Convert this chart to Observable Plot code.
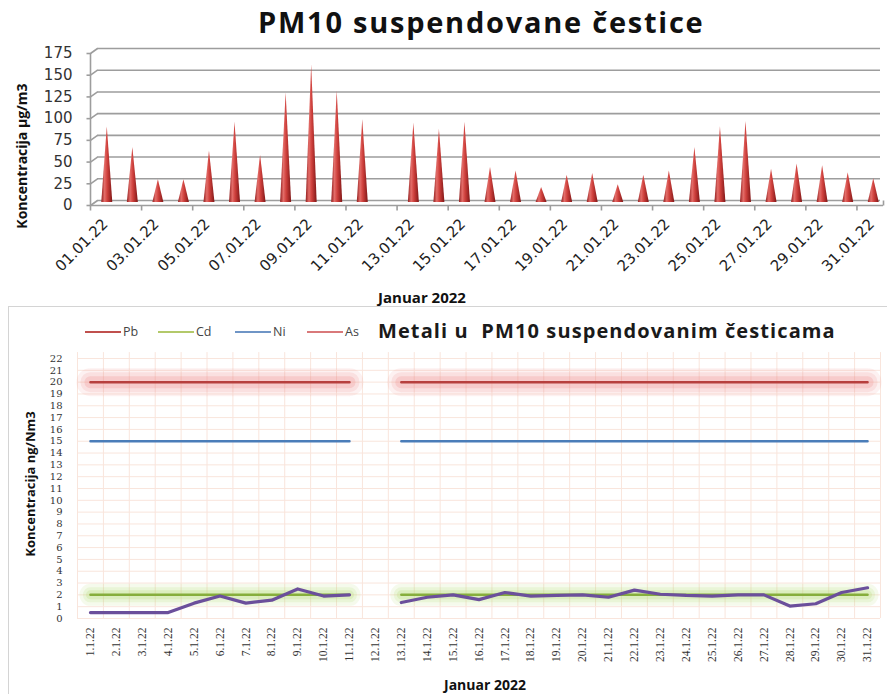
<!DOCTYPE html>
<html><head><meta charset="utf-8">
<script src="https://cdn.jsdelivr.net/npm/d3@7"></script>
<script src="https://cdn.jsdelivr.net/npm/@observablehq/plot@0.6"></script>
<style>
body{margin:0;background:#fff;}
#wrap{position:relative;width:887px;height:694px;overflow:hidden;font-family:"Open Sans",sans-serif;}
.abs{position:absolute;white-space:nowrap;line-height:1;}
.sw{position:absolute;height:2px;}
svg{background:transparent !important;}
</style></head><body><div id="wrap"></div>
<script>
// ---------- data ----------
const days = [1,2,3,4,5,6,7,8,9,10,11,12,13,14,15,16,17,18,19,20,21,22,23,24,25,26,27,28,29,30,31];
const pm10 = [85,61,24,24,57,90,52,124,156,126,93,null,89,82,90,38,34,15,29,31,18,29,34,61,85,91,36,42,40,32,25];
const pm10Ticks = [0,25,50,75,100,125,150,175];
const topLabelDays = [1,3,5,7,9,11,13,15,17,19,21,23,25,27,29,31];
const topLabels = ["01.01.22","03.01.22","05.01.22","07.01.22","09.01.22","11.01.22","13.01.22","15.01.22","17.01.22","19.01.22","21.01.22","23.01.22","25.01.22","27.01.22","29.01.22","31.01.22"];

const pbVals = [20,20,20,20,20,20,20,20,20,20,20,null,20,20,20,20,20,20,20,20,20,20,20,20,20,20,20,20,20,20,20];
const niVals = [15,15,15,15,15,15,15,15,15,15,15,null,15,15,15,15,15,15,15,15,15,15,15,15,15,15,15,15,15,15,15];
const cdVals = [2,2,2,2,2,2,2,2,2,2,2,null,2,2,2,2,2,2,2,2,2,2,2,2,2,2,2,2,2,2,2];
const asVals = [0.5,0.5,0.5,0.5,1.3,1.9,1.3,1.55,2.5,1.9,2.0,null,1.35,1.8,2.0,1.6,2.2,1.9,1.95,2.0,1.8,2.4,2.05,1.95,1.9,2.0,2.0,1.05,1.25,2.2,2.6];
const metalTicks = [0,1,2,3,4,5,6,7,8,9,10,11,12,13,14,15,16,17,18,19,20,21,22];
const bottomLabels = ["1.1.22","2.1.22","3.1.22","4.1.22","5.1.22","6.1.22","7.1.22","8.1.22","9.1.22","10.1.22","11.1.22","12.1.22","13.1.22","14.1.22","15.1.22","16.1.22","17.1.22","18.1.22","19.1.22","20.1.22","21.1.22","22.1.22","23.1.22","24.1.22","25.1.22","26.1.22","27.1.22","28.1.22","29.1.22","30.1.22","31.1.22"];
const legendNames = ["Pb","Cd","Ni","As"];
const legendColors = ["#c0504d","#b3c96a","#6f95c6","#d9797a"];

const wrap = document.getElementById("wrap");
function addDiv(html, css){const d=document.createElement("div");d.className="abs";d.innerHTML=html;Object.assign(d.style,css);wrap.appendChild(d);return d;}
const K = v => () => v;

// ---------- top chart ----------
const TW=887, TH=305, tML=94, tMR=1, tMT=48, tMB=105;
const pxDay = (TW-tML-tMR)/31, pxUnit = (TH-tMT-tMB)/175;
const fx = p => p/pxDay, fy = p => p/pxUnit;
const coneBase = -fy(2);
const conePts = [];
days.forEach((d,i)=>{ if(pm10[i]!=null){
  conePts.push({day:d,x:d-fx(5.5),y:coneBase},{day:d,x:d,y:pm10[i]},{day:d,x:d+fx(5.5),y:coneBase});
}});
const boundaries2 = [0.5,2.5,4.5,6.5,8.5,10.5,12.5,14.5,16.5,18.5,20.5,22.5,24.5,26.5,28.5,30.5];
const gridCol = "#9d9d9d";
const topSvg = Plot.plot({
  width:TW,height:TH,marginLeft:tML,marginRight:tMR,marginTop:tMT,marginBottom:tMB,
  x:{domain:[0.5,31.5],axis:null},
  y:{domain:[0,175],axis:null},
  style:{fontFamily:"DejaVu Sans",fontSize:"15px",overflow:"visible"},
  marks:[
    Plot.ruleY(pm10Ticks,{y:d=>d,x1:K(0.5+fx(3)),x2:K(31.5-fx(6)),stroke:gridCol,strokeWidth:1.6}),
    Plot.link(pm10Ticks,{x1:K(0.5-fx(4)),y1:d=>d-fy(5),x2:K(0.5+fx(3)),y2:d=>d,stroke:gridCol,strokeWidth:1.6}),
    Plot.link(pm10Ticks,{x1:K(0.5-fx(8)),y1:d=>d-fy(5),x2:K(0.5-fx(4)),y2:d=>d-fy(5),stroke:gridCol,strokeWidth:1.6}),
    Plot.ruleX([0.5-fx(4)],{x:d=>d,y1:K(-fy(5)),y2:K(175-fy(5)),stroke:gridCol,strokeWidth:1.6}),
    Plot.ruleY([-fy(5)],{y:d=>d,x1:K(0.5-fx(4)),x2:K(31.5-fx(3)),stroke:gridCol,strokeWidth:1.6}),
    Plot.link([0],{x1:K(31.5-fx(3)),y1:K(-fy(5)),x2:K(31.5-fx(3)),y2:K(0),stroke:gridCol,strokeWidth:1.6}),
    Plot.link(boundaries2,{x1:b=>b-fx(4),x2:b=>b-fx(4),y1:K(-fy(5)),y2:K(-fy(10)),stroke:gridCol,strokeWidth:1.6}),
    Plot.area(conePts,{x1:"x",y1:K(coneBase),y2:"y",z:"day",fill:"url(#coneGrad)",curve:"linear"}),
    Plot.text(pm10Ticks,{x:K(0.5),y:d=>d,dy:5,dx:-22,textAnchor:"end",text:d=>String(d),fill:"#333",fontSize:15}),
    Plot.text(topLabelDays,{x:d=>d,y:K(0),text:(d,i)=>topLabels[i],rotate:-45,textAnchor:"end",dy:21,dx:-2,fill:"#222",fontSize:15})
  ]
});
d3.select(topSvg).insert("defs",":first-child").html(
 '<linearGradient id="coneGrad" x1="0" x2="1" y1="0" y2="0">'+
 '<stop offset="0" stop-color="#921e1e"/><stop offset="0.3" stop-color="#e36d69"/>'+
 '<stop offset="0.55" stop-color="#cf403c"/><stop offset="1" stop-color="#801616"/></linearGradient>');
topSvg.style.position="absolute";topSvg.style.left="0";topSvg.style.top="0";
wrap.appendChild(topSvg);

addDiv("PM10 suspendovane čestice",{left:"258px",top:"7px",fontSize:"29px",fontWeight:"700",color:"#111",letterSpacing:"1.75px"});
addDiv("Koncentracija µg/m3",{left:"22px",top:"156px",fontSize:"14px",fontWeight:"700",color:"#111",transform:"translate(-50%,-50%) rotate(-90deg)"});
addDiv("Januar 2022",{left:"422px",top:"297px",fontSize:"15px",fontWeight:"700",color:"#111",transform:"translate(-50%,-50%)"});

// ---------- bottom chart ----------
const frame = document.createElement("div");
Object.assign(frame.style,{position:"absolute",left:"8px",top:"306px",width:"900px",height:"400px",borderLeft:"1.5px solid #d4d4d4",borderTop:"1.5px solid #d4d4d4"});
wrap.appendChild(frame);

const rows = days.map((d,i)=>({day:d,pb:pbVals[i],ni:niVals[i],cd:cdVals[i],as:asVals[i]}));
const BW=887, BH=389;
const bounds = [0.5,1.5,2.5,3.5,4.5,5.5,6.5,7.5,8.5,9.5,10.5,11.5,12.5,13.5,14.5,15.5,16.5,17.5,18.5,19.5,20.5,21.5,22.5,23.5,24.5,25.5,26.5,27.5,28.5,29.5,30.5,31.5];
const glow = (key,color,widths,ops)=>widths.map((w,i)=>Plot.line(rows,{x:"day",y:key,stroke:color,strokeWidth:w,strokeOpacity:ops[i],strokeLinecap:"round"}));
const bottomSvg = Plot.plot({
  width:BW,height:BH,marginLeft:77,marginRight:7,marginTop:53,marginBottom:76,
  x:{domain:[0.5,31.5],axis:null},
  y:{domain:[0,22],axis:null},
  style:{fontFamily:"DejaVu Serif",fontSize:"10px",overflow:"visible"},
  marks:[
    Plot.ruleY(metalTicks,{y:d=>d,stroke:"#f9e5dc",strokeWidth:1}),
    Plot.ruleX(bounds,{x:d=>d,y1:K(0),y2:K(22.5),stroke:"#f9e5dc",strokeWidth:1}),
    ...glow("pb","#f08c8c",[28,20,12],[0.12,0.17,0.25]),
    ...glow("cd","#b8dc78",[22,15,9],[0.14,0.18,0.25]),
    Plot.line(rows,{x:"day",y:"pb",stroke:"#b7403e",strokeWidth:2.5}),
    Plot.line(rows,{x:"day",y:"ni",stroke:"#4a7db9",strokeWidth:2.5}),
    Plot.line(rows,{x:"day",y:"cd",stroke:"#86ae3c",strokeWidth:2.5}),
    Plot.line(rows,{x:"day",y:"as",stroke:"#6b4f9b",strokeWidth:3.2}),
    Plot.text(metalTicks,{x:K(0.5),y:d=>d,dx:-15,textAnchor:"end",text:d=>String(d),fill:"#333",fontSize:10,letterSpacing:"1.6px"}),
    Plot.text(days,{x:d=>d,y:K(0),dy:9,rotate:-90,textAnchor:"end",text:(d,i)=>bottomLabels[i],fill:"#333",fontSize:11.5,fontFamily:"Liberation Serif"})
  ]
});
bottomSvg.style.position="absolute";bottomSvg.style.left="0";bottomSvg.style.top="305px";
wrap.appendChild(bottomSvg);

// legend
const legX = [85,158,235,307];
legendNames.forEach((n,i)=>{
  const s=document.createElement("div");s.className="sw";
  Object.assign(s.style,{left:legX[i]+"px",top:"331px",width:"36px",background:legendColors[i]});
  wrap.appendChild(s);
  addDiv(n,{left:(legX[i]+38)+"px",top:"332px",fontSize:"12.5px",color:"#444",transform:"translate(0,-50%)"});
});
addDiv("Metali u&nbsp; PM10 suspendovanim česticama",{left:"378px",top:"331px",fontSize:"20px",fontWeight:"700",color:"#1a1a1a",letterSpacing:"1.1px",transform:"translate(0,-50%)"});
addDiv("Koncentracija ng/Nm3",{left:"30px",top:"484px",fontSize:"13px",fontWeight:"700",color:"#111",transform:"translate(-50%,-50%) rotate(-90deg)"});
addDiv("Januar 2022",{left:"485px",top:"685px",fontSize:"14px",fontWeight:"700",color:"#111",transform:"translate(-50%,-50%)"});
</script></body></html>
